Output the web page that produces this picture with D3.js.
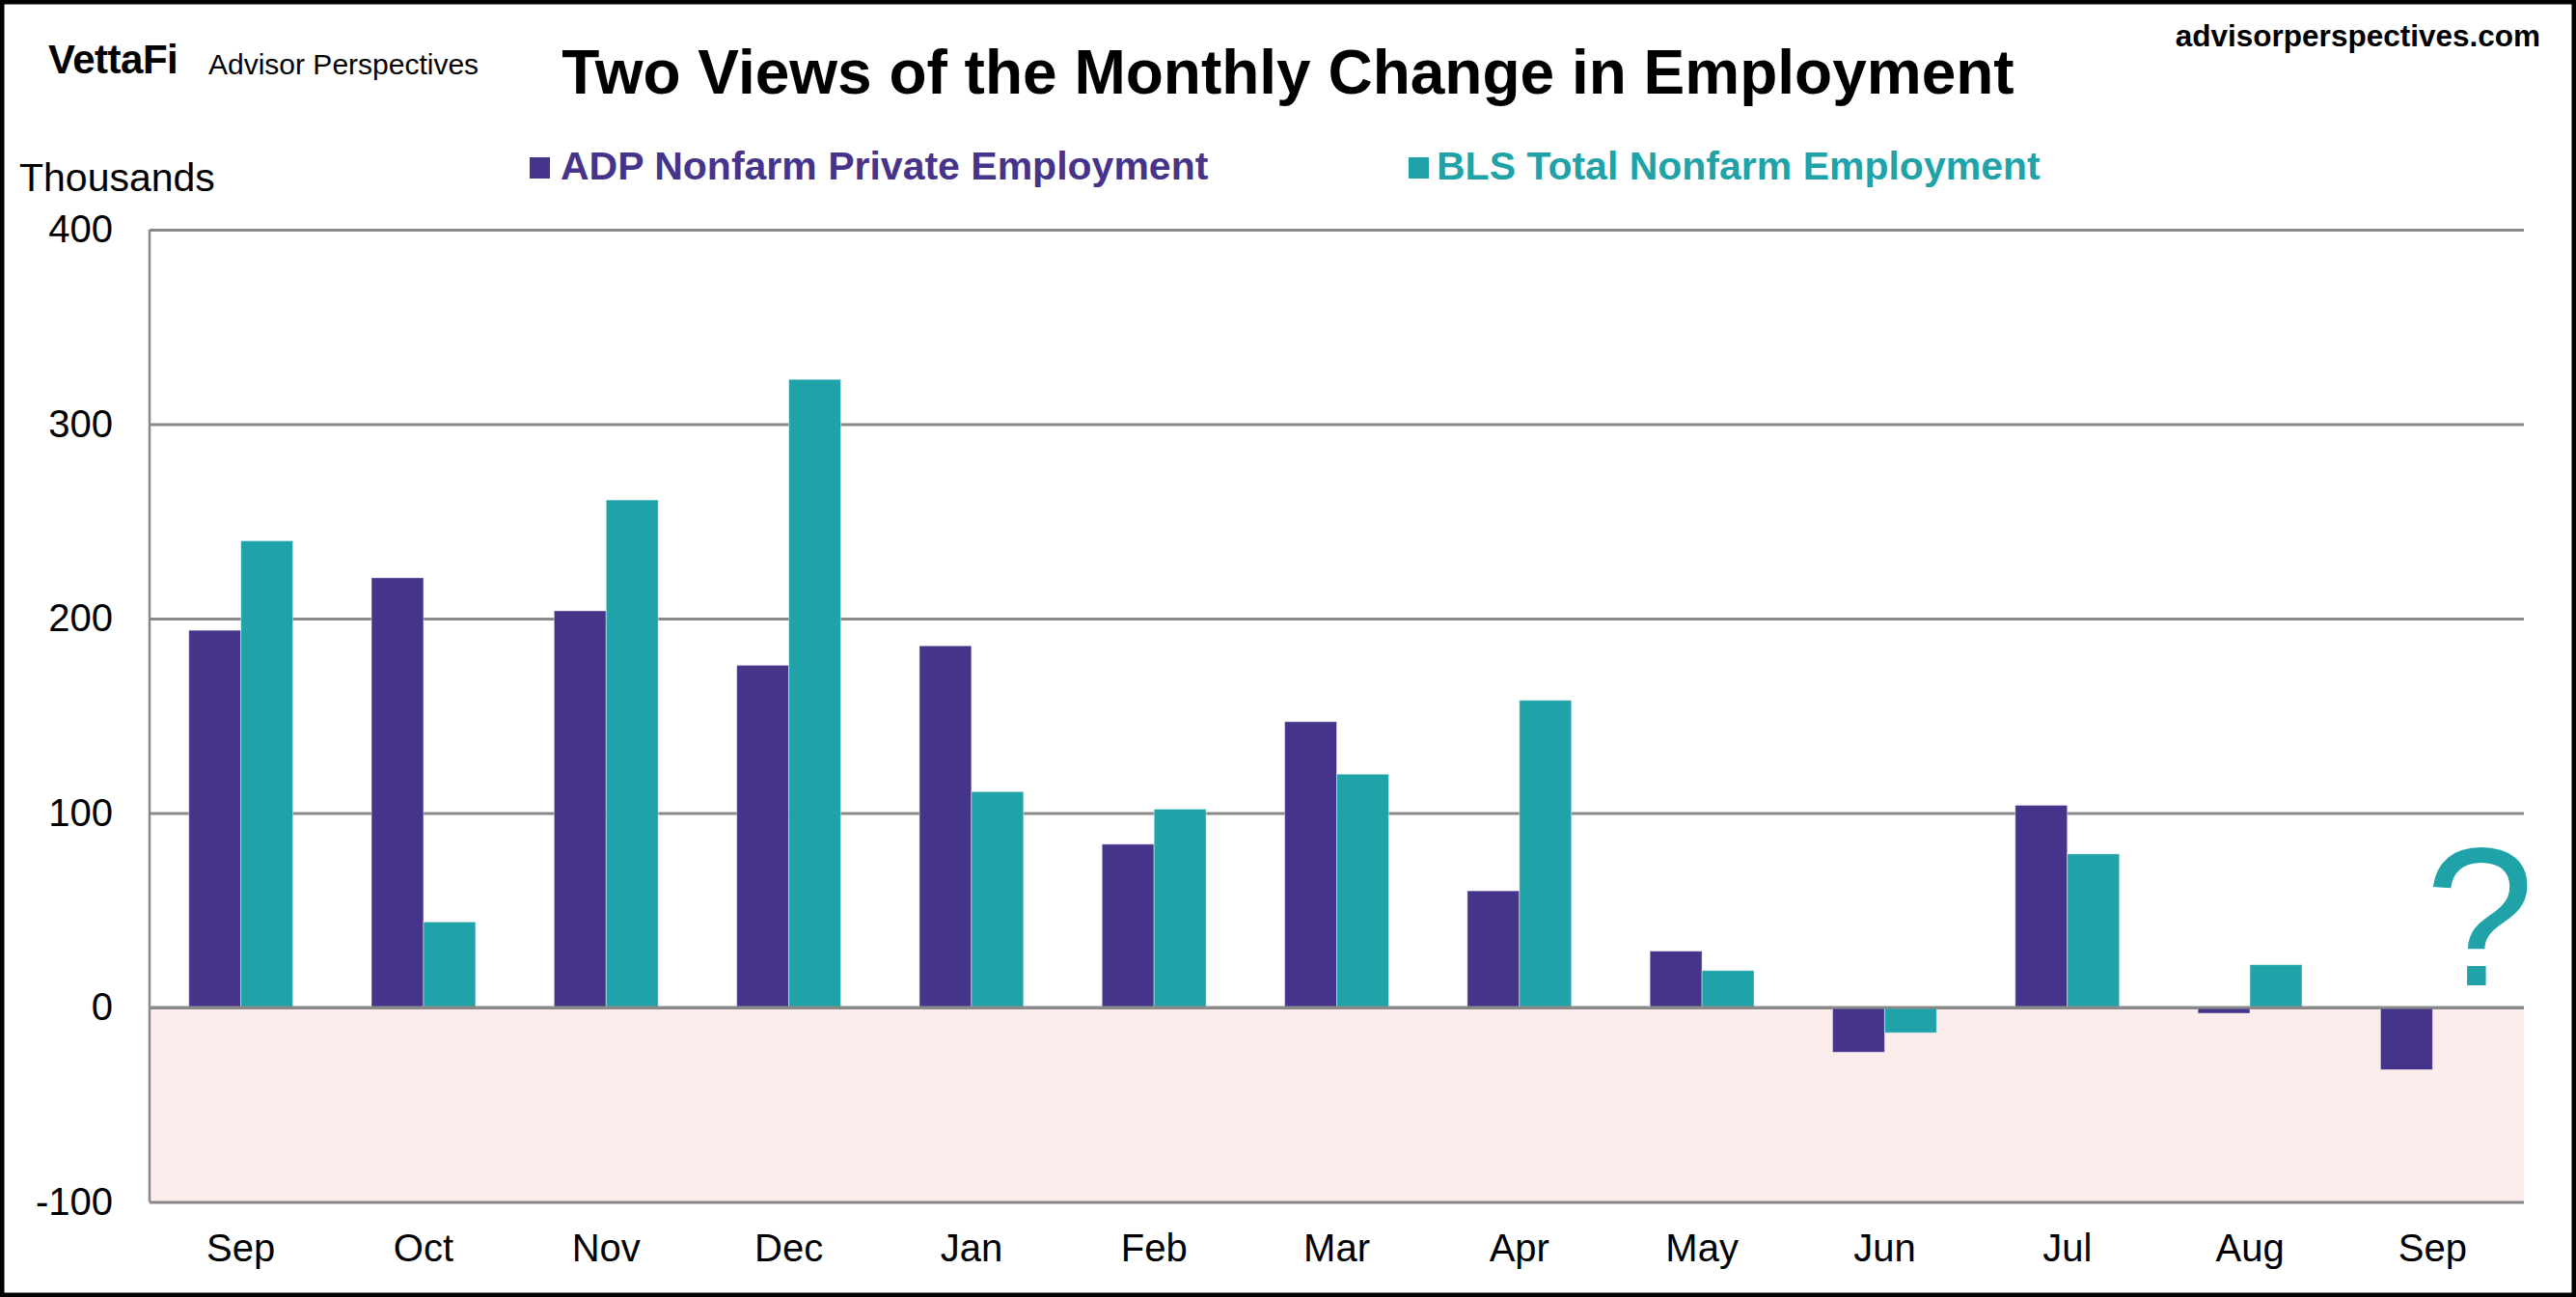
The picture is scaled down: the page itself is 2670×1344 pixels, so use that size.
<!DOCTYPE html>
<html>
<head>
<meta charset="utf-8">
<script src="https://cdn.jsdelivr.net/npm/d3@7"></script>
<style>
  body { margin: 0; background: #fff; }
  svg { display: block; font-family: Arial, "Liberation Sans", sans-serif; }
</style>
</head>
<body>
<div id="chart"></div>
<script>
// Data (thousands of jobs, monthly change)
const periods = ["Sep 2024", "Oct 2024", "Nov 2024", "Dec 2024", "Jan 2025", "Feb 2025",
  "Mar 2025", "Apr 2025", "May 2025", "Jun 2025", "Jul 2025", "Aug 2025", "Sep 2025"];
const monthLabels = ["Sep", "Oct", "Nov", "Dec", "Jan", "Feb", "Mar", "Apr", "May", "Jun", "Jul", "Aug", "Sep"];
const adp = [194, 221, 204, 176, 186, 84, 147, 60, 29, -23, 104, -3, -32];
const bls = [240, 44, 261, 323, 111, 102, 120, 158, 19, -13, 79, 22, null];
const seriesNames = ["ADP Nonfarm Private Employment", "BLS Total Nonfarm Employment"];
const seriesColors = ["#46348a", "#1fa3a8"];
const yTicks = [-100, 0, 100, 200, 300, 400];

const W = 2670, H = 1344;
const plot = { left: 155, right: 2616, top: 238, bottom: 1245.5 };

const svg = d3.select("#chart").append("svg")
  .attr("width", W)
  .attr("height", H);

svg.append("rect")
  .attr("width", W).attr("height", H)
  .attr("fill", "#fff");

// scales
const x0 = d3.scaleBand()
  .domain(periods)
  .range([plot.left, plot.right])
  .paddingInner(0.43)
  .paddingOuter(0.215);

const x1 = d3.scaleBand()
  .domain(seriesNames)
  .range([0, x0.bandwidth()]);

const y = d3.scaleLinear()
  .domain([-100, 400])
  .range([plot.bottom, plot.top]);

// pink zone below zero
svg.append("rect")
  .attr("x", plot.left)
  .attr("y", y(0))
  .attr("width", plot.right - plot.left)
  .attr("height", y(-100) - y(0))
  .attr("fill", "#fcecec");

// gridlines
const grid = svg.append("g")
  .attr("transform", `translate(${plot.left},0)`)
  .call(d3.axisLeft(y).tickValues(yTicks).tickSize(-(plot.right - plot.left)).tickFormat(""));
grid.select(".domain").remove();
grid.selectAll("line").attr("stroke", "#898989").attr("stroke-width", 3);

// bars
const rows = periods.map((p, i) => ({ period: p, values: [adp[i], bls[i]] }));

const groups = svg.append("g").selectAll("g")
  .data(rows)
  .enter().append("g")
  .attr("transform", d => `translate(${x0(d.period)},0)`);

groups.selectAll("rect")
  .data(d => d.values.map((v, k) => ({ key: seriesNames[k], k: k, v: v })).filter(e => e.v !== null))
  .enter().append("rect")
  .attr("x", d => x1(d.key))
  .attr("width", x1.bandwidth())
  .attr("y", d => y(Math.max(0, d.v)))
  .attr("height", d => Math.abs(y(d.v) - y(0)))
  .attr("fill", d => seriesColors[d.k])
  .attr("stroke", "#ffffff")
  .attr("stroke-opacity", 0.45)
  .attr("stroke-width", 1);

// zero line over bars
svg.append("line")
  .attr("x1", plot.left).attr("x2", plot.right)
  .attr("y1", y(0)).attr("y2", y(0))
  .attr("stroke", "#898989").attr("stroke-width", 3);

// left axis line
svg.append("line")
  .attr("x1", plot.left).attr("x2", plot.left)
  .attr("y1", plot.top).attr("y2", plot.bottom)
  .attr("stroke", "#898989").attr("stroke-width", 2.5);

// y tick labels (plain hyphen for negatives, like the original)
const yAxis = svg.append("g")
  .attr("transform", "translate(117,0)")
  .call(d3.axisLeft(y).tickValues(yTicks).tickSize(0).tickPadding(0).tickFormat(d => String(d)));
yAxis.select(".domain").remove();
yAxis.selectAll("text")
  .attr("font-family", "Arial, 'Liberation Sans', sans-serif")
  .attr("font-size", 40)
  .attr("fill", "#000")
  .attr("dy", "0.32em");

// x tick labels
const xAxis = svg.append("g")
  .attr("transform", `translate(0,${plot.bottom})`)
  .call(d3.axisBottom(x0).tickSize(0).tickPadding(0).tickFormat((d, i) => monthLabels[i]));
xAxis.select(".domain").remove();
xAxis.selectAll("text")
  .attr("font-family", "Arial, 'Liberation Sans', sans-serif")
  .attr("font-size", 40)
  .attr("fill", "#000")
  .attr("dy", 0)
  .attr("y", 61);

// question mark for the missing BLS September print
svg.append("text")
  .attr("x", x0(periods[12]) + x1(seriesNames[1]) + x1.bandwidth() / 2 + 22)
  .attr("y", 1021)
  .attr("text-anchor", "middle")
  .attr("font-size", 204)
  .attr("fill", seriesColors[1])
  .text("?");

// titles
svg.append("text")
  .attr("x", 1335).attr("y", 97)
  .attr("text-anchor", "middle")
  .attr("font-size", 64)
  .attr("font-weight", "bold")
  .attr("fill", "#000")
  .text("Two Views of the Monthly Change in Employment");

svg.append("text")
  .attr("x", 2633).attr("y", 48)
  .attr("text-anchor", "end")
  .attr("font-size", 31.5)
  .attr("font-weight", "bold")
  .attr("fill", "#000")
  .text("advisorperspectives.com");

svg.append("text")
  .attr("x", 50).attr("y", 76)
  .attr("font-size", 42)
  .attr("font-weight", "bold")
  .attr("letter-spacing", -0.5)
  .attr("fill", "#000")
  .text("VettaFi");

svg.append("text")
  .attr("x", 216).attr("y", 77)
  .attr("font-size", 30)
  .attr("fill", "#000")
  .text("Advisor Perspectives");

svg.append("text")
  .attr("x", 20).attr("y", 198)
  .attr("font-size", 41)
  .attr("fill", "#000")
  .text("Thousands");

// legend
const legendX = [549, 1460];
const legend = svg.append("g").selectAll("g")
  .data(seriesNames)
  .enter().append("g")
  .attr("transform", (d, i) => `translate(${legendX[i]},0)`);

legend.append("rect")
  .attr("x", 0).attr("y", 163)
  .attr("width", 21).attr("height", 22)
  .attr("fill", (d, i) => seriesColors[i]);

legend.append("text")
  .attr("x", (d, i) => i === 0 ? 32 : 29)
  .attr("y", 186)
  .attr("font-size", 41)
  .attr("font-weight", "bold")
  .attr("fill", (d, i) => seriesColors[i])
  .text(d => d);

// outer frame
svg.append("rect")
  .attr("x", 0).attr("y", 0)
  .attr("width", W).attr("height", H)
  .attr("fill", "none")
  .attr("stroke", "#000")
  .attr("stroke-width", 9);
</script>
</body>
</html>
